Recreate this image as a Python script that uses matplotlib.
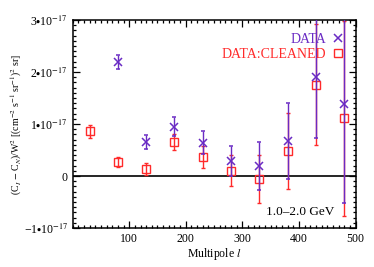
import numpy as np
import matplotlib
matplotlib.use('Agg')
import matplotlib.pyplot as plt
from matplotlib.lines import Line2D
from matplotlib.ticker import FixedLocator, MultipleLocator, FuncFormatter

plt.rcParams['font.family'] = ['Liberation Serif', 'DejaVu Serif']
plt.rcParams['mathtext.fontset'] = 'stix'

# multipole bins
ell = [30, 80, 130, 180, 230, 280, 330, 380, 430, 480]

# DATA (no value shown in the first bin), units of 1e-17
ell_data = ell[1:]
data_val = [2.19, 0.65, 0.95, 0.64, 0.29, 0.20, 0.67, 1.91, 1.38]
data_err = [0.13, 0.13, 0.18, 0.22, 0.29, 0.46, 0.73, 1.18, 1.90]

# DATA:CLEANED, units of 1e-17
clean_val = [0.86, 0.27, 0.13, 0.65, 0.36, 0.10, -0.06, 0.48, 1.76, 1.11]
clean_err = [0.13, 0.10, 0.12, 0.15, 0.21, 0.30, 0.46, 0.73, 1.17, 1.88]

xticks = [100, 200, 300, 400, 500]
yticks = [-1, 0, 1, 2, 3]

scale = 1e-17
purple = '#6a2bc4'
red = '#ff2a2a'

fig = plt.figure(figsize=(3.74, 2.67), dpi=100)
ax = fig.add_axes([0.194, 0.146, 0.757, 0.779])

ax.axhline(0, color='black', linewidth=1.2, zorder=1)

ax.errorbar(ell, np.array(clean_val) * scale, yerr=np.array(clean_err) * scale,
            fmt='s', color=red, mfc='none', mec=red, ms=5.5, mew=1.0,
            elinewidth=1.0, capsize=1.5, capthick=1.0, zorder=2)
ax.errorbar(ell_data, np.array(data_val) * scale, yerr=np.array(data_err) * scale,
            fmt='x', color=purple, ms=5.5, mew=1.1,
            elinewidth=1.0, capsize=1.5, capthick=1.0, zorder=3)

ax.set_xlim(0, 500)
ax.set_ylim(-1e-17, 3e-17)

ax.xaxis.set_major_locator(FixedLocator(xticks))
ax.xaxis.set_minor_locator(MultipleLocator(10))
ax.yaxis.set_major_locator(FixedLocator([t * scale for t in yticks]))
ax.yaxis.set_minor_locator(MultipleLocator(0.1e-17))


def yfmt(v, pos):
    n = int(round(v / scale))
    if n == 0:
        return '0'
    s = '\u2212' if n < 0 else ''
    return s + r'%d$\bullet$10$^{-17}$' % abs(n)


ax.xaxis.set_major_formatter(FuncFormatter(lambda v, pos: '%d' % v))
ax.yaxis.set_major_formatter(FuncFormatter(yfmt))

ax.tick_params(which='both', direction='in', top=True, right=True,
               labelsize=8.5, width=0.9)
ax.tick_params(which='major', length=5)
ax.tick_params(which='minor', length=2.5)
for sp in ax.spines.values():
    sp.set_linewidth(1.1)

ax.set_xlabel(r'Multipole $l$', fontsize=8.5, labelpad=1)
ax.set_ylabel(r'(C$_I$ $-$ C$_N$)/W$^2$ [(cm$^{-2}$ s$^{-1}$ sr$^{-1}$)$^2$ sr]',
              fontsize=7.1, labelpad=0)

handles = [Line2D([], [], marker='x', ls='none', color=purple, ms=5.5, mew=1.1),
           Line2D([], [], marker='s', ls='none', color=red, mfc='none', ms=5.5, mew=1.0)]
leg = ax.legend(handles, ['DATA', 'DATA:CLEANED'], loc='upper right',
                markerfirst=False, frameon=False, fontsize=10,
                handlelength=0.8, handletextpad=0.4, labelspacing=0.2,
                borderaxespad=0.5, borderpad=0.4)
leg.get_texts()[0].set_color(purple)
leg.get_texts()[1].set_color(red)

ax.text(0.925, 0.05, '1.0\u20132.0 GeV', transform=ax.transAxes,
        ha='right', va='bottom', fontsize=9.5)

fig.savefig('out.png', dpi=100)
